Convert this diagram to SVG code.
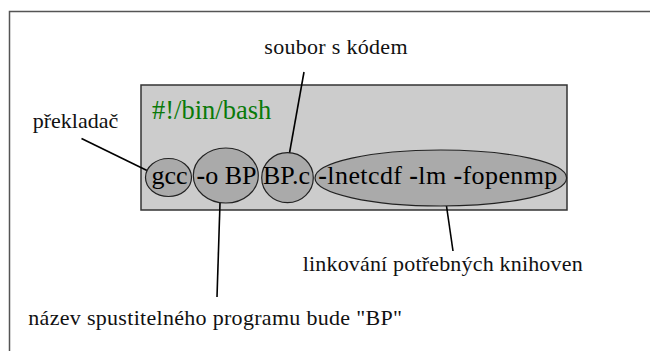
<svg xmlns="http://www.w3.org/2000/svg" width="650" height="351" viewBox="0 0 650 351">
  <style>
    .frame { fill: #ffffff; stroke: #555555; stroke-width: 1.5; }
    .panel { fill: #cccccc; stroke: #333333; stroke-width: 1.5; }
    .token { fill: #aaaaaa; stroke: #222222; stroke-width: 1.2; }
    .dash { font-weight: bold; }
    .link { stroke: #000000; stroke-width: 1.6; fill: none; }
  </style>

  <rect class="frame" x="9.5" y="11.5" width="700" height="400"/>

  <g id="script-panel">
    <rect class="panel" x="141" y="85" width="426" height="125"/>
    <text style="font-family:'Liberation Serif',serif;font-size:26.5px;fill:#0a7a0a" x="152" y="119">#!/bin/bash</text>
  </g>

  <g id="connectors">
    <line class="link" x1="81.5" y1="138.5" x2="147" y2="170.5"/>
    <line class="link" x1="304" y1="72" x2="289.5" y2="153"/>
    <line class="link" x1="220" y1="203" x2="217" y2="297"/>
    <line class="link" x1="446.5" y1="206" x2="453" y2="251"/>
  </g>

  <g id="gcc">
    <ellipse class="token" cx="168.5" cy="177.5" rx="23" ry="19"/>
    <text style="font-family:'Liberation Serif',serif;font-size:26px;fill:#000" x="151.5" y="183.5">gcc</text>
  </g>

  <g id="output-flag">
    <ellipse class="token" cx="225.8" cy="175.5" rx="32.5" ry="27.5"/>
    <text style="font-family:'Liberation Serif',serif;font-size:26px;fill:#000" x="196.5" y="183.5"><tspan class="dash">-</tspan>o BP</text>
  </g>

  <g id="source-file">
    <ellipse class="token" cx="287.5" cy="177.7" rx="25.8" ry="25"/>
    <text style="font-family:'Liberation Serif',serif;font-size:26px;fill:#000" x="263" y="183.5">BP.c</text>
  </g>

  <g id="libraries">
    <ellipse class="token" cx="440.8" cy="178" rx="125.8" ry="28"/>
    <text style="font-family:'Liberation Serif',serif;font-size:26px;fill:#000;letter-spacing:0.4px" x="318.3" y="183.5"><tspan class="dash">-</tspan>lnetcdf <tspan class="dash">-</tspan>lm <tspan class="dash">-</tspan>fopenmp</text>
  </g>

  <g id="label-compiler">
    <text style="font-family:'Liberation Serif',serif;font-size:22px;fill:#111" x="32.7" y="128">překladač</text>
  </g>

  <g id="label-source">
    <text style="font-family:'Liberation Serif',serif;font-size:22px;fill:#111;letter-spacing:0.3px" x="264.3" y="54.3">soubor s kódem</text>
  </g>

  <g id="label-libraries">
    <text style="font-family:'Liberation Serif',serif;font-size:22px;fill:#111;letter-spacing:0.18px" x="302.7" y="270.7">linkování potřebných knihoven</text>
  </g>

  <g id="label-output">
    <text style="font-family:'Liberation Serif',serif;font-size:22px;fill:#111;letter-spacing:0.3px" x="28.3" y="324.5">název spustitelného programu bude "BP"</text>
  </g>
</svg>
